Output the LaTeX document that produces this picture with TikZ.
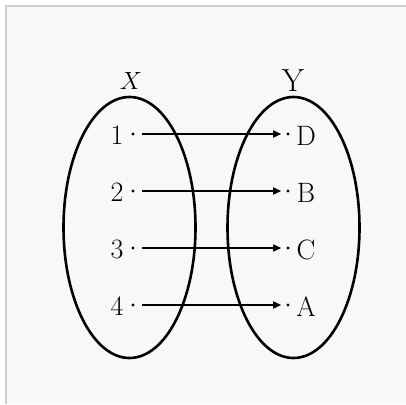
\documentclass[tikz,border=0pt]{standalone}
\usetikzlibrary{arrows.meta}
\definecolor{bg}{HTML}{F8F8F8}
\definecolor{frame}{HTML}{D0D0D0}
\tikzset{
  lab/.style={inner sep=0pt, font=\fontsize{28}{32}\selectfont},
  setlab/.style={inner sep=0pt, font=\fontsize{32}{36}\selectfont},
  pt/.style={circle, fill=black, inner sep=0pt, minimum size=3.2pt},
  setell/.style={draw=black, line width=2.6pt},
  arr/.style={line width=1.5pt, -{Triangle[length=8pt,width=7pt]}, shorten <=7.5pt, shorten >=5pt}
}
\begin{document}
\begin{tikzpicture}[x=1pt,y=-1pt]
\useasboundingbox (0,0) rectangle (406,404);
\fill[white] (0,0) rectangle (406,404);
\fill[bg] (6,6) rectangle (406,404);
\draw[frame, line width=2pt] (6,404) -- (6,6) -- (406,6);
% sets
\draw[setell] (129.5,227.5) ellipse [x radius=66, y radius=130.5];
\draw[setell] (293.5,227.5) ellipse [x radius=66, y radius=130.5];
\node[setlab] (X) at (131,81) {$X$};
\node[setlab] (Y) at (293,81) {Y};
% elements
\foreach \i/\y/\l in {1/134/D,2/191/B,3/248/C,4/305/A}{
  \node[lab] (n\i) at (117,\y+1.5) {\i};
  \node[pt] (p\i) at (133,\y) {};
  \node[pt] (q\i) at (288,\y) {};
  \node[lab] (m\i) at (306,\y+1.5) {\l};
  \draw[arr] (p\i) -- (q\i);
}
\end{tikzpicture}
\end{document}
